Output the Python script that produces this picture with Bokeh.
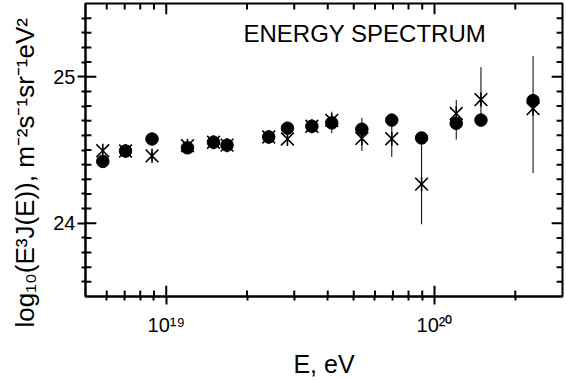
import numpy as np
from bokeh.plotting import figure
from bokeh.models import Range1d, FixedTicker, LogAxis, LinearAxis, Label, Title, ColumnDataSource
from bokeh.embed import file_html
from bokeh.resources import INLINE

# ---- data ----
energy = [5.8e18, 7.05e18, 8.85e18, 1.20e19, 1.50e19, 1.685e19, 2.41e19, 2.83e19,
          3.49e19, 4.14e19, 5.36e19, 6.93e19, 8.95e19, 1.205e20, 1.49e20, 2.33e20]
flux_circle = [24.422, 24.493, 24.575, 24.515, 24.553, 24.533, 24.589, 24.649,
               24.662, 24.685, 24.642, 24.704, 24.582, 24.682, 24.704, 24.837]
flux_star = [24.495, 24.493, 24.460, 24.529, 24.553, 24.533, 24.589, 24.575,
             24.662, 24.702, 24.579, 24.577, 24.267, 24.749, 24.844, 24.782]
star_lo = [24.47, 24.47, 24.43, 24.49, 24.52, 24.50, 24.56, 24.545,
           24.63, 24.615, 24.493, 24.453, 23.993, 24.571, 24.729, 24.342]
star_hi = [24.52, 24.52, 24.49, 24.57, 24.58, 24.56, 24.62, 24.605,
           24.70, 24.761, 24.719, 24.695, 24.569, 24.842, 25.065, 25.142]

x_lim = (5e18, 3e20)
y_lim = (23.5, 25.5)
x_major = [1e19, 1e20]
x_major_labels = ["10¹⁹", "10²⁰"]
x_minor = [6e18, 7e18, 8e18, 9e18, 2e19, 3e19, 4e19, 5e19, 6e19, 7e19, 8e19, 9e19, 2e20]
y_major = [24, 25]
y_major_labels = ["24", "25"]
y_minor = [round(v, 1) for v in np.arange(23.6, 25.45, 0.1) if abs(v - round(v)) > 1e-6]

title_text = "ENERGY SPECTRUM"
x_label = "E, eV"
y_label = "log₁₀(E³J(E)), m⁻²s⁻¹sr⁻¹eV²"

FONT = "Liberation Sans"
FRAME_W, FRAME_H = 485, 299
MAJOR_LEN, MINOR_LEN = 11, 6   # tick lengths in pixels

p = figure(width=564, height=380, x_axis_type="log",
           x_axis_location=None, y_axis_location=None,
           x_range=Range1d(*x_lim), y_range=Range1d(*y_lim),
           output_backend="svg", toolbar_location=None,
           min_border_left=77, min_border_right=2, min_border_top=3, min_border_bottom=78)
p.grid.visible = False
p.outline_line_color = "black"
p.outline_line_width = 2
p.background_fill_color = "white"
p.border_fill_color = "white"

xt = FixedTicker(ticks=x_major, minor_ticks=x_minor)
yt = FixedTicker(ticks=y_major, minor_ticks=y_minor)

bottom_ax = LogAxis(ticker=xt)
left_ax = LinearAxis(ticker=yt)

for ax in [bottom_ax, left_ax]:
    ax.axis_line_width = 2
    ax.axis_line_color = "black"
    ax.major_tick_in = 0
    ax.major_tick_out = 8
    ax.minor_tick_in = 0
    ax.minor_tick_out = 4
    ax.major_tick_line_width = 2
    ax.minor_tick_line_width = 2
    ax.major_tick_line_color = "black"
    ax.minor_tick_line_color = "black"

bottom_ax.major_label_overrides = {k: v for k, v in zip(x_major, x_major_labels)}
bottom_ax.major_label_text_font = FONT
bottom_ax.major_label_text_font_size = "20px"
bottom_ax.major_label_text_color = "black"
bottom_ax.major_label_standoff = 9
bottom_ax.axis_label = x_label
bottom_ax.axis_label_text_font = FONT
bottom_ax.axis_label_text_font_size = "25px"
bottom_ax.axis_label_text_font_style = "normal"
bottom_ax.axis_label_text_color = "black"
bottom_ax.axis_label_standoff = 11

left_ax.major_label_overrides = {k: v for k, v in zip(y_major, y_major_labels)}
left_ax.major_label_text_font = FONT
left_ax.major_label_text_font_size = "20px"
left_ax.major_label_text_color = "black"
left_ax.major_label_standoff = 2

p.add_layout(bottom_ax, "below")
p.add_layout(left_ax, "left")

ytitle = Title(text=y_label, align="left", offset=-31, vertical_align="top",
               text_font=FONT, text_font_size="26px", text_font_style="normal",
               text_color="black", standoff=18)
p.add_layout(ytitle, "left")

# inward tick marks on all four sides, as data-space segments crossing the frame edge
dy_per_px = (y_lim[1] - y_lim[0]) / FRAME_H
dlogx_per_px = np.log10(x_lim[1] / x_lim[0]) / FRAME_W
OUTSIDE = 10  # px beyond the edge (clipped away)

def hticks(vals, ln):
    vals = np.asarray(vals, dtype=float)
    d_in, d_out = ln * dy_per_px, OUTSIDE * dy_per_px
    n = len(vals)
    p.segment(x0=vals, y0=np.full(n, y_lim[0] - d_out), x1=vals, y1=np.full(n, y_lim[0] + d_in),
              line_color="black", line_width=2)
    p.segment(x0=vals, y0=np.full(n, y_lim[1] + d_out), x1=vals, y1=np.full(n, y_lim[1] - d_in),
              line_color="black", line_width=2)

def vticks(vals, ln):
    vals = np.asarray(vals, dtype=float)
    f_in = 10 ** (ln * dlogx_per_px)
    f_out = 10 ** (OUTSIDE * dlogx_per_px)
    n = len(vals)
    p.segment(x0=np.full(n, x_lim[0] / f_out), y0=vals, x1=np.full(n, x_lim[0] * f_in), y1=vals,
              line_color="black", line_width=2)
    p.segment(x0=np.full(n, x_lim[1] * f_out), y0=vals, x1=np.full(n, x_lim[1] / f_in), y1=vals,
              line_color="black", line_width=2)

hticks(x_major, MAJOR_LEN)
hticks(x_minor, MINOR_LEN)
vticks(y_major, MAJOR_LEN)
vticks(y_minor, MINOR_LEN)

# error bars of the asterisk series
p.segment(x0=energy, y0=star_lo, x1=energy, y1=star_hi, line_color="black", line_width=1)

# asterisks drawn as six screen-sized arms
arm_angles = [90, 270, 45, 135, 225, 315]
arm_len = [7, 7, 9, 9, 9, 9]
sx = np.repeat(energy, len(arm_angles))
sy = np.repeat(flux_star, len(arm_angles))
sa = np.tile(arm_angles, len(energy))
sl = np.tile(arm_len, len(energy))
src = ColumnDataSource(dict(x=sx, y=sy, a=sa, l=sl))
p.ray(x="x", y="y", length="l", angle="a", angle_units="deg", length_units="screen",
      source=src, line_color="black", line_width=1.6)

# filled circles
p.scatter(x=energy, y=flux_circle, marker="circle", size=12.5,
          fill_color="black", line_color="black")

p.add_layout(Label(x=158, y=263, x_units="screen", y_units="screen", text=title_text,
                   text_font=FONT, text_font_size="24px", text_color="black",
                   text_baseline="alphabetic", text_align="left"))

open("out.html", "w").write(file_html(p, INLINE))
